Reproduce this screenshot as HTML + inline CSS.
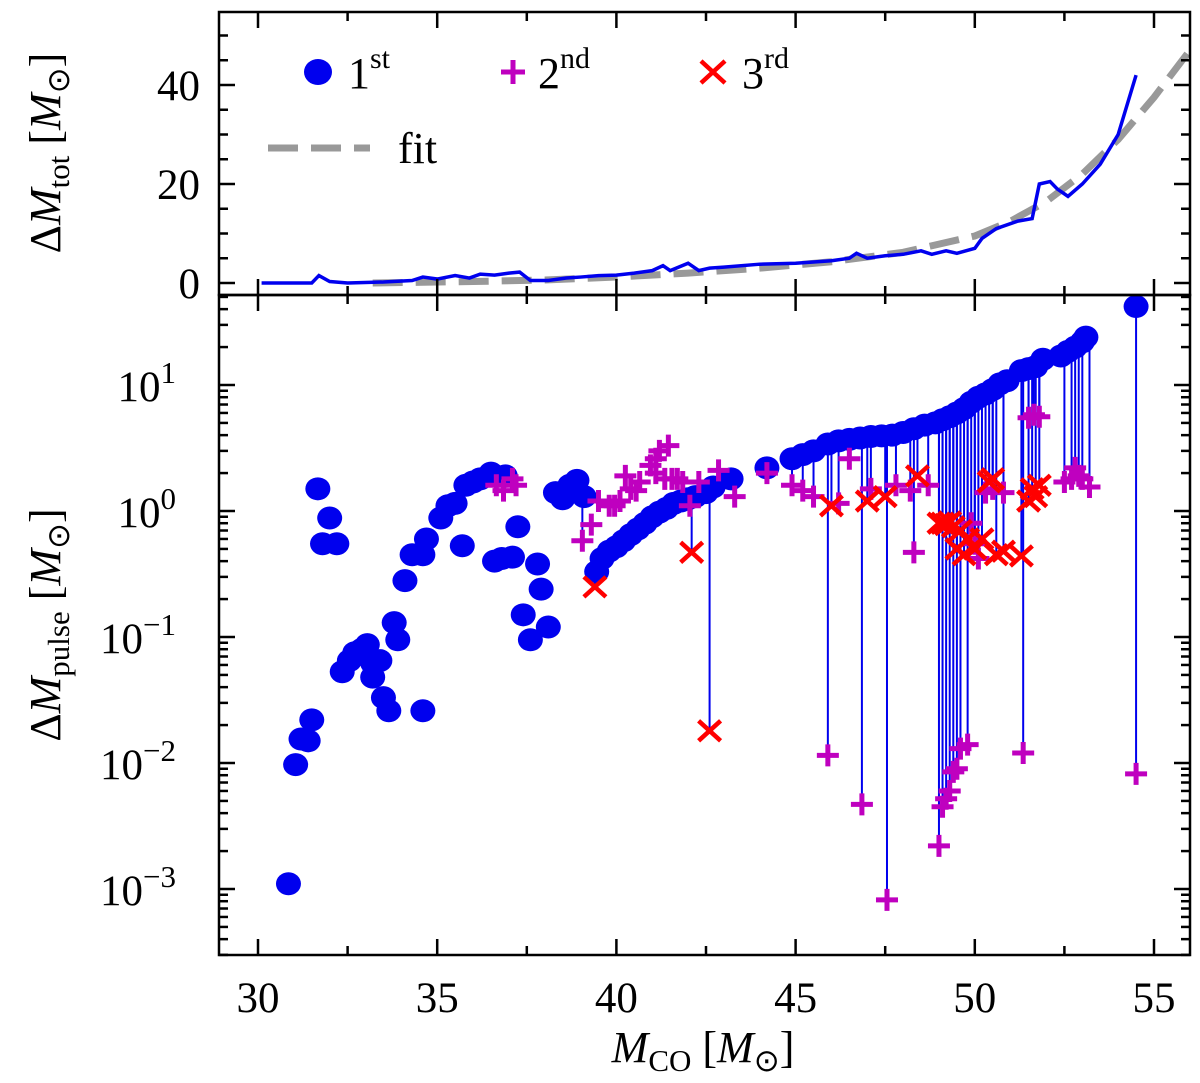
<!DOCTYPE html>
<html><head><meta charset="utf-8"><style>
body{margin:0;background:#fff}
svg{display:block;font-family:"Liberation Serif",serif}
</style></head><body>
<div style="position:relative;width:1200px;height:1083px">
<svg id="c" width="1200" height="1083" viewBox="0 0 1200 1083" xmlns="http://www.w3.org/2000/svg" style="position:absolute;left:0;top:0">
<g id="topPanel"></g>
<g id="botPanel"></g>
<g id="axesG"></g>
<text transform="translate(60,153) rotate(-90)" text-anchor="middle" font-size="44">Δ<tspan font-style="italic">M</tspan><tspan dy="9" font-size="31">tot</tspan><tspan dy="-9"> [</tspan><tspan font-style="italic">M</tspan><tspan dy="9" font-size="31">⊙</tspan><tspan dy="-9">]</tspan></text>
<text transform="translate(60,625) rotate(-90)" text-anchor="middle" font-size="44">Δ<tspan font-style="italic">M</tspan><tspan dy="9" font-size="31">pulse</tspan><tspan dy="-9"> [</tspan><tspan font-style="italic">M</tspan><tspan dy="9" font-size="31">⊙</tspan><tspan dy="-9">]</tspan></text>
<text x="703" y="1062" text-anchor="middle" font-size="44"><tspan font-style="italic">M</tspan><tspan dy="9" font-size="31">CO</tspan><tspan dy="-9"> [</tspan><tspan font-style="italic">M</tspan><tspan dy="9" font-size="31">⊙</tspan><tspan dy="-9">]</tspan></text>
</svg>
</div>
<script>
const totX=[30.1,31.5,31.7,32,32.5,33.5,34.3,34.6,35,35.5,35.9,36.2,36.6,37,37.3,37.6,38.1,38.6,39,39.5,40,40.5,41,41.3,41.5,42,42.3,42.6,43,44,45,46,46.5,46.7,47,47.5,48,48.5,48.8,49.2,49.5,50,50.2,50.6,51.2,51.6,51.8,52.1,52.3,52.6,53,53.5,54,54.5];
const totY=[0,0,1.5,0.3,0,0.2,0.5,1.2,0.8,1.5,1,1.8,1.6,2,2.2,0.5,0.5,1,1.2,1.5,1.6,2,2.5,3.5,2.5,4,2.5,3,3.2,3.8,4,4.5,5,6,5,5.5,5.8,6.5,5.8,6.5,6,7,9,11,12.5,13,20,20.5,19,17.5,20,24,30,42];
const fitX=[33.2,36,38,40,42,44,46,48,50,51,52,53,54,55,56];
const fitY=[0,0.3,0.6,1.2,2,3,4.3,6.2,9.5,12.5,16.5,22,29,37.5,47];
const p1X=[30.85,31.05,31.2,31.4,31.5,31.67,31.8,32.0,32.2,32.35,32.55,32.7,32.9,33.05,33.2,33.2,33.4,33.5,33.65,33.8,33.9,34.1,34.3,34.6,34.6,34.7,35.1,35.3,35.5,35.7,35.8,36.0,36.2,36.5,36.6,36.8,36.9,37.1,37.25,37.4,37.6,37.8,37.9,38.1,38.3,38.5,38.7,38.9,39.1,39.45,39.6,39.8,40.0,40.2,40.4,40.6,40.8,41.0,41.2,41.4,41.6,41.8,42.0,42.2,42.5,42.7,43.2,44.2,44.9,45.2,45.5,45.9,46.2,46.5,46.8,47.1,47.4,47.7,48.0,48.3,48.6,48.9,49.1,49.3,49.5,49.7,49.9,50.1,50.3,50.5,50.7,50.9,51.3,51.5,51.7,51.9,52.4,52.6,52.8,53.0,53.1,54.5];
const p1Y=[0.0011,0.0097,0.0155,0.015,0.022,1.5,0.55,0.88,0.55,0.053,0.065,0.075,0.08,0.087,0.062,0.048,0.065,0.033,0.026,0.13,0.095,0.28,0.45,0.026,0.45,0.6,0.88,1.1,1.15,0.53,1.6,1.7,1.8,2.0,0.4,0.42,1.9,0.43,0.75,0.15,0.095,0.38,0.24,0.12,1.4,1.25,1.6,1.75,1.3,0.33,0.42,0.48,0.52,0.58,0.65,0.72,0.8,0.9,0.98,1.05,1.15,1.2,1.25,1.3,1.4,1.55,1.8,2.2,2.6,2.8,3.0,3.4,3.6,3.7,3.8,3.9,3.95,4.0,4.2,4.5,4.8,5.0,5.3,5.6,6.0,6.5,7.3,8.0,8.5,9.2,10.2,10.8,13,13.5,14,16,17,18.5,20,22,24,42];
const p2X=[36.65,36.85,37.1,37.2,39.05,39.3,39.5,39.8,39.95,40.1,40.25,40.4,40.55,40.65,40.95,41.1,41.2,41.45,41.7,41.1,41.35,41.55,41.85,42.05,42.3,42.85,43.3,44.2,44.9,45.2,45.5,45.9,46.2,46.5,46.85,47.1,47.55,47.8,48.2,48.3,48.7,49.0,49.1,49.2,49.3,49.4,49.5,49.6,49.8,49.9,50.0,50.1,50.3,50.5,50.8,51.35,51.5,51.65,51.8,52.5,52.7,52.8,52.9,53.0,53.2,54.5];
const p2Y=[1.6,1.45,1.8,1.6,0.58,0.78,1.2,1.1,1.1,1.2,1.9,1.5,1.45,1.7,2.3,2.6,3.0,3.3,1.8,2.0,1.8,1.8,1.7,1.1,1.7,2.1,1.3,2.0,1.6,1.45,1.3,0.0115,1.15,2.6,0.0047,1.5,0.00082,1.6,1.45,0.47,1.6,0.0022,0.0045,0.0052,0.006,0.0085,0.009,0.013,0.014,0.8,0.55,0.42,1.4,1.5,1.4,0.012,5.5,5.8,5.6,1.7,1.8,2.2,1.9,1.8,1.55,0.0082];
const p3X=[39.4,42.1,42.6,46.0,47.0,47.5,48.4,49.0,49.1,49.2,49.3,49.4,49.5,49.6,49.7,49.8,50.0,50.2,50.4,50.5,50.6,50.8,51.3,51.5,51.6,51.7,51.8];
const p3Y=[0.25,0.47,0.018,1.1,1.2,1.3,1.9,0.8,0.8,0.78,0.82,0.75,0.5,0.7,0.45,0.6,0.5,0.6,1.7,1.8,0.45,0.48,0.44,1.2,1.5,1.3,1.6];
const xTicks=[30,35,40,45,50,55];
const topTicks=[0,20,40];
const logTicks=[-3,-2,-1,0,1];

(function(){
const NS="http://www.w3.org/2000/svg";
const L=219,R=1190,T=12,MID=295,B=955;
const xs=v=>258+(v-30)*35.84;
const yt=v=>283-v*4.95;
const yl=v=>511-Math.log10(v)*126;
function mk(tag,attrs,parent){const e=document.createElementNS(NS,tag);for(const k in attrs)e.setAttribute(k,attrs[k]);parent.appendChild(e);return e;}
const svg=document.getElementById('c');
const topG=document.getElementById('topPanel'),botG=document.getElementById('botPanel'),axesG=document.getElementById('axesG');

const defs=mk('defs',{},svg);
const c1=mk('clipPath',{id:'ct'},defs);mk('rect',{x:L,y:T,width:R-L,height:MID-T},c1);
topG.setAttribute('clip-path','url(#ct)');

let d=fitX.map((x,i)=>(i?'L':'M')+xs(x)+','+yt(fitY[i])).join(' ');
let e=mk('path',{d:d,fill:'none',stroke:'#999','stroke-width':7,'stroke-dasharray':'30,13'},topG);


d=totX.map((x,i)=>(i?'L':'M')+xs(x)+','+yt(totY[i])).join(' ');
e=mk('path',{d:d,fill:'none',stroke:'#0000ee','stroke-width':3.5},topG);



function nearestP1(x){let bi=0,bd=1e9;for(let i=0;i<p1X.length;i++){const dd=Math.abs(p1X[i]-x);if(dd<bd){bd=dd;bi=i;}}return p1Y[bi];}
const sg=mk('g',{},botG);


function stem(x,y){const y0=nearestP1(x);if(y<y0){const s=mk('line',{x1:xs(x),x2:xs(x),y1:yl(y0),y2:yl(y),stroke:'#0000ee','stroke-width':2},sg);

}}
p2X.forEach((x,i)=>stem(x,p2Y[i]));
p3X.forEach((x,i)=>stem(x,p3Y[i]));

function circle(g,cx,cy,r){r=r||12.5;return mk('ellipse',{cx:cx,cy:cy,rx:r,ry:r-1,fill:'#0000ee'},g);}
function plus(g,cx,cy,s){s=s||11;return mk('path',{d:`M${cx-s},${cy}H${cx+s}M${cx},${cy-s}V${cy+s}`,stroke:'#bf00bf','stroke-width':5,fill:'none'},g);}
function cross(g,cx,cy,s){s=s||11;return mk('path',{d:`M${cx-s},${cy-s+1}L${cx+s},${cy+s-1}M${cx-s},${cy+s-1}L${cx+s},${cy-s+1}`,stroke:'#ff0000','stroke-width':4.5,fill:'none'},g);}
p1X.forEach((x,i)=>{const c=circle(botG,xs(x),yl(p1Y[i]));

});
p2X.forEach((x,i)=>{const c=plus(botG,xs(x),yl(p2Y[i]));

});
p3X.forEach((x,i)=>{const c=cross(botG,xs(x),yl(p3Y[i]));

});

mk('rect',{x:L,y:T,width:R-L,height:MID-T,fill:'none',stroke:'#000','stroke-width':2.5},axesG);
mk('rect',{x:L,y:MID,width:R-L,height:B-MID,fill:'none',stroke:'#000','stroke-width':2.5},axesG);
function tk(x1,y1,x2,y2){mk('line',{x1:x1,y1:y1,x2:x2,y2:y2,stroke:'#000','stroke-width':2.5},axesG);}
function txt(x,y,s,anchor,size){const t=mk('text',{x:x,y:y,'text-anchor':anchor,'font-size':size},axesG);t.textContent=s;return t;}
for(let v=30;v<=55.01;v+=2.5){const X=xs(v);const big=(v%5===0)?16:9;
 tk(X,B,X,B-big);tk(X,MID,X,MID-big);tk(X,MID,X,MID+big);tk(X,T,X,T+big);}
xTicks.forEach(v=>{const t=txt(xs(v),1012,String(v),'middle',43);

});
for(let v=0;v<=50;v+=5){const Y=yt(v);const big=(v%20===0)?16:9;tk(L,Y,L+big,Y);tk(R,Y,R-big,Y);}
topTicks.forEach(v=>{const t=txt(200,yt(v)+15,String(v),'end',43);

});
for(let dcd=-4;dcd<=1;dcd++){for(let m=1;m<10;m++){const v=m*Math.pow(10,dcd);const Y=yl(v);if(Y<MID||Y>B)continue;const big=m===1?16:9;tk(L,Y,L+big,Y);tk(R,Y,R-big,Y);}}
logTicks.forEach(p=>{const t=mk('text',{x:176,y:yl(Math.pow(10,p))+16,'text-anchor':'end','font-size':43},axesG);


t.textContent='10';
const s=mk('tspan',{dy:-18,'font-size':31},t);s.textContent=(p<0?'\u2212':'')+Math.abs(p);});

const lg=mk('g',{},axesG);


circle(lg,318,72,14);plus(lg,513,72,12);cross(lg,713,72,12);
function ltxt(x,s,sup){const t=mk('text',{x:x,y:88,'font-size':44},lg);t.textContent=s;const u=mk('tspan',{dy:-20,'font-size':30},t);u.textContent=sup;return t;}
ltxt(348,'1','st');ltxt(538,'2','nd');ltxt(742,'3','rd');
mk('path',{d:'M268,148H370',stroke:'#999','stroke-width':7,'stroke-dasharray':'30,13'},lg);
const ft=mk('text',{x:398,y:163,'font-size':44},lg);ft.textContent='fit';
})();
</script>
</body></html>
